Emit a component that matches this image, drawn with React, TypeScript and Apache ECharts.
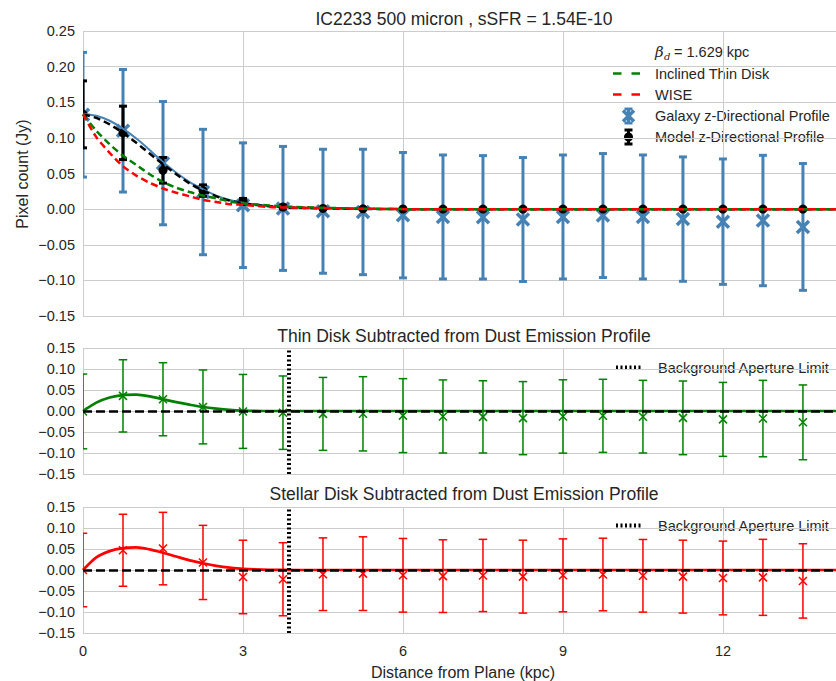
import React, { useEffect, useRef } from "react";
import * as echarts from "echarts";

const FONT = "'Liberation Sans', Arial, Helvetica, sans-serif";
const TXT = "#262626";
const GRIDC = "#cccccc";
const BLUE = "#4682b4";
const GREEN = "#008000";
const RED = "#ff0000";

const X_MAX = 14.12;
const apertureLimit = 3.86;

// sampled heights (kpc)
const zPos = [0, 0.75, 1.5, 2.25, 3, 3.75, 4.5, 5.25, 6, 6.75, 7.5, 8.25, 9, 9.75, 10.5, 11.25, 12, 12.75, 13.5];

// top panel: galaxy profile
const galaxyVal = [0.1325, 0.11, 0.0645, 0.024, 0.0055, 0.001, -0.003, -0.004, -0.0085, -0.011, -0.0115, -0.0146, -0.011, -0.009, -0.011, -0.014, -0.0176, -0.016, -0.025];
const galaxyErr = [0.0875, 0.086, 0.0865, 0.088, 0.0875, 0.087, 0.087, 0.088, 0.088, 0.087, 0.0866, 0.087, 0.087, 0.087, 0.087, 0.0873, 0.088, 0.0915, 0.089];
// top panel: model profile
const modelVal = [0.133, 0.107, 0.0545, 0.026, 0.011, 0.003, 0.001, 0.0004, 0.0002, 0.0001, 0.0001, 0, 0, 0, 0, 0, 0, 0, 0];
const modelErr = [0.047, 0.0375, 0.018, 0.008, 0.004, 0.002, 0.001, 0.0005, 0.0003, 0.0002, 0.0001, 0, 0, 0, 0, 0, 0, 0, 0];

// middle panel: thin disk subtracted
const thinSubVal = [-0.001, 0.036, 0.028, 0.0097, -0.001, -0.004, -0.0069, -0.0067, -0.011, -0.013, -0.014, -0.017, -0.013, -0.0115, -0.0135, -0.0163, -0.02, -0.018, -0.027];
const thinSubErr = [0.089, 0.086, 0.087, 0.088, 0.088, 0.0874, 0.0868, 0.0884, 0.088, 0.087, 0.086, 0.087, 0.0873, 0.087, 0.0865, 0.0877, 0.088, 0.091, 0.089];

// bottom panel: stellar disk subtracted
const stellarSubVal = [0, 0.047, 0.051, 0.018, -0.0166, -0.022, -0.01, -0.0087, -0.0126, -0.0146, -0.013, -0.0158, -0.0127, -0.0107, -0.0138, -0.0158, -0.019, -0.0175, -0.026];
const stellarSubErr = [0.0875, 0.0857, 0.0863, 0.0883, 0.0875, 0.087, 0.0865, 0.0877, 0.0877, 0.0865, 0.086, 0.0868, 0.0868, 0.0864, 0.0865, 0.0868, 0.0878, 0.0905, 0.0885];

// curves
const curveX = [0, 0.25, 0.5, 0.75, 1, 1.25, 1.5, 1.75, 2, 2.25, 2.5, 2.75, 3, 3.5, 4, 5, 6, 8, 10, 12, 14.12];
const galaxyFit = [0.134, 0.131, 0.124, 0.113, 0.099, 0.083, 0.066, 0.051, 0.038, 0.028, 0.019, 0.013, 0.009, 0.004, 0.002, 0.0005, 0, 0, 0, 0, 0];
const modelFit = [0.133, 0.128, 0.119, 0.107, 0.093, 0.078, 0.063, 0.049, 0.036, 0.026, 0.018, 0.012, 0.008, 0.004, 0.002, 0.0005, 0, 0, 0, 0, 0];
const thinDisk = [0.133, 0.11, 0.091, 0.075, 0.062, 0.049, 0.038, 0.03, 0.024, 0.019, 0.015, 0.011, 0.008, 0.005, 0.003, 0.001, 0, 0, 0, 0, 0];
const wise = [0.133, 0.101, 0.079, 0.06, 0.047, 0.037, 0.029, 0.023, 0.018, 0.013, 0.01, 0.007, 0.006, 0.003, 0.002, 0.001, 0, 0, 0, 0, 0];
const thinSubFit = [0, 0.02, 0.032, 0.038, 0.039, 0.035, 0.028, 0.021, 0.015, 0.0095, 0.0055, 0.0025, 0.001, 0, 0, 0, 0, 0, 0, 0, 0];
const stellarSubFit = [0, 0.03, 0.045, 0.052, 0.054, 0.049, 0.041, 0.032, 0.023, 0.016, 0.01, 0.0055, 0.0025, 0.0005, 0, 0, 0, 0, 0, 0, 0];

const titles = [
  "IC2233 500 micron , sSFR = 1.54E-10",
  "Thin Disk Subtracted from Dust Emission Profile",
  "Stellar Disk Subtracted from Dust Emission Profile",
];

const zip2 = (xs: number[], ys: number[]) => xs.map((x, i) => [x, ys[i]]);
const zip3 = (xs: number[], ys: number[], es: number[]) => xs.map((x, i) => [x, ys[i], es[i]]);

type ErrOpt = { color: string; lw: number; capW: number; capLw: number; marker: "x" | "dot"; mSize: number; mLw: number };

function makeErrRender(o: ErrOpt) {
  return function (_params: any, api: any) {
    const x = api.value(0);
    const y = api.value(1);
    const e = api.value(2);
    const p = api.coord([x, y]);
    const t = api.coord([x, y + e]);
    const b = api.coord([x, y - e]);
    const h = o.capW / 2;
    const children: any[] = [
      { type: "line", shape: { x1: t[0], y1: t[1], x2: b[0], y2: b[1] }, style: { stroke: o.color, lineWidth: o.lw } },
      { type: "line", shape: { x1: t[0] - h, y1: t[1], x2: t[0] + h, y2: t[1] }, style: { stroke: o.color, lineWidth: o.capLw } },
      { type: "line", shape: { x1: b[0] - h, y1: b[1], x2: b[0] + h, y2: b[1] }, style: { stroke: o.color, lineWidth: o.capLw } },
    ];
    if (o.marker === "x") {
      const m = o.mSize / 2;
      children.push({ type: "line", shape: { x1: p[0] - m, y1: p[1] - m, x2: p[0] + m, y2: p[1] + m }, style: { stroke: o.color, lineWidth: o.mLw } });
      children.push({ type: "line", shape: { x1: p[0] - m, y1: p[1] + m, x2: p[0] + m, y2: p[1] - m }, style: { stroke: o.color, lineWidth: o.mLw } });
    } else {
      children.push({ type: "circle", shape: { cx: p[0], cy: p[1], r: o.mSize / 2 }, style: { fill: o.color } });
    }
    return { type: "group", children };
  };
}

const fmtY = (v: number) => {
  if (Math.abs(v) < 1e-9) return "0.00";
  const s = Math.abs(v).toFixed(2);
  return v < 0 ? "\u2212" + s : s;
};

const LEFT = 83;
const WIDTH = 753;
const grids = [
  { left: LEFT, top: 31, width: WIDTH, height: 285 },
  { left: LEFT, top: 348, width: WIDTH, height: 126 },
  { left: LEFT, top: 507, width: WIDTH, height: 126 },
];
const yRanges = [
  [-0.15, 0.25],
  [-0.15, 0.15],
  [-0.15, 0.15],
];

function txt(x: number, y: number, text: string, size: number, extra: any = {}) {
  return {
    type: "text",
    x,
    y,
    silent: true,
    style: {
      text,
      fill: TXT,
      font: `${extra.fontStyle || "normal"} ${size}px ${extra.fontFamily || FONT}`,
      textAlign: extra.align || "left",
      textVerticalAlign: "middle",
    },
    ...(extra.rotation !== undefined ? { rotation: extra.rotation } : {}),
  };
}

function hline(x1: number, x2: number, y: number, color: string, width: number, dash?: number[]) {
  return {
    type: "line",
    silent: true,
    shape: { x1, y1: y, x2, y2: y },
    style: { stroke: color, lineWidth: width, lineDash: dash || null },
  };
}

function vline(x: number, y1: number, y2: number, color: string, width: number) {
  return { type: "line", silent: true, shape: { x1: x, y1, x2: x, y2 }, style: { stroke: color, lineWidth: width } };
}

function App() {
  const ref = useRef<HTMLDivElement>(null);
  useEffect(() => {
    if (!ref.current) return;
    const chart = echarts.init(ref.current, undefined, { renderer: "svg" });

    const xAxis = grids.map((_, i) => ({
      type: "value",
      gridIndex: i,
      min: 0,
      max: X_MAX,
      interval: 3,
      axisLine: { show: false },
      axisTick: { show: false },
      splitLine: { show: true, lineStyle: { color: GRIDC, width: 1 } },
      axisLabel: {
        show: i === 2,
        showMaxLabel: false,
        margin: 10,
        color: TXT,
        fontSize: 14.5,
        fontFamily: FONT,
        formatter: (v: number) => (Math.abs(v % 3) < 1e-6 ? String(Math.round(v)) : ""),
      },
    }));

    const yAxis = grids.map((_, i) => ({
      type: "value",
      gridIndex: i,
      min: yRanges[i][0],
      max: yRanges[i][1],
      interval: 0.05,
      axisLine: { show: false },
      axisTick: { show: false },
      splitLine: { show: true, lineStyle: { color: GRIDC, width: 1 } },
      axisLabel: { margin: 8, color: TXT, fontSize: 14.5, fontFamily: FONT, formatter: fmtY },
    }));

    const curve = (data: number[], color: string, dash: any, width: number, idx: number, extra: any = {}) => ({
      type: "line",
      xAxisIndex: idx,
      yAxisIndex: idx,
      data: zip2(curveX, data),
      showSymbol: false,
      symbol: "none",
      smooth: 0.25,
      lineStyle: { color, width, type: dash },
      silent: true,
      ...extra,
    });

    const markers = () => ({
      symbol: "none",
      silent: true,
      label: { show: false },
      emphasis: { disabled: true },
      data: [
        { yAxis: 0, lineStyle: { color: "#000", width: 2.5, type: [9, 4] } },
        { xAxis: apertureLimit, lineStyle: { color: "#000", width: 4, type: [2, 2.5] } },
      ],
    });

    const errSeries = (idx: number, data: any[], o: ErrOpt) => ({
      type: "custom",
      xAxisIndex: idx,
      yAxisIndex: idx,
      clip: true,
      silent: true,
      encode: { x: 0, y: 1 },
      data,
      renderItem: makeErrRender(o),
    });

    const series: any[] = [
      errSeries(0, zip3(zPos, galaxyVal, galaxyErr), { color: BLUE, lw: 3, capW: 8, capLw: 3, marker: "x", mSize: 12, mLw: 3.5 }),
      curve(galaxyFit, BLUE, "solid", 2, 0),
      curve(modelFit, "#000", [7, 4], 2.5, 0),
      curve(thinDisk, GREEN, [7, 4], 2.5, 0),
      curve(wise, RED, [7, 4], 2.5, 0),
      errSeries(0, zip3(zPos, modelVal, modelErr), { color: "#000", lw: 3, capW: 8, capLw: 3, marker: "dot", mSize: 9, mLw: 1 }),
      // middle panel
      errSeries(1, zip3(zPos, thinSubVal, thinSubErr), { color: GREEN, lw: 1.5, capW: 8.5, capLw: 1.5, marker: "x", mSize: 8, mLw: 1.5 }),
      curve(thinSubFit, GREEN, "solid", 2.7, 1, { markLine: markers() }),
      // bottom panel
      errSeries(2, zip3(zPos, stellarSubVal, stellarSubErr), { color: RED, lw: 1.5, capW: 8.5, capLw: 1.5, marker: "x", mSize: 8, mLw: 1.5 }),
      curve(stellarSubFit, RED, "solid", 2.7, 2, { markLine: markers() }),
    ];

    const LX = 655;
    const graphic: any[] = [
      txt(464, 18.5, titles[0], 17.5, { align: "center" }),
      txt(464, 335.5, titles[1], 17.5, { align: "center" }),
      txt(464, 494, titles[2], 17.5, { align: "center" }),
      txt(22, 174, "Pixel count (Jy)", 16, { align: "center", rotation: Math.PI / 2 }),
      txt(463, 672, "Distance from Plane (kpc)", 16, { align: "center" }),
      // top legend
      txt(LX, 52, "\u03b2", 15, { fontStyle: "italic", fontFamily: "'DejaVu Serif', serif" }),
      txt(LX + 9, 56, "d", 10, { fontStyle: "italic", fontFamily: "'DejaVu Serif', serif" }),
      txt(LX + 19, 52, "= 1.629 kpc", 14.5),
      hline(613, 621.5, 73.5, GREEN, 2.5),
      hline(631.5, 640, 73.5, GREEN, 2.5),
      txt(LX, 73.5, "Inclined Thin Disk", 14.5),
      hline(613, 621.5, 94.5, RED, 2.5),
      hline(631.5, 640, 94.5, RED, 2.5),
      txt(LX, 94.5, "WISE", 14.5),
      vline(628.5, 109, 123, BLUE, 3),
      hline(624.5, 632.5, 109, BLUE, 3),
      hline(624.5, 632.5, 123, BLUE, 3),
      { type: "line", silent: true, shape: { x1: 623, y1: 110.5, x2: 634, y2: 121.5 }, style: { stroke: BLUE, lineWidth: 3.5 } },
      { type: "line", silent: true, shape: { x1: 623, y1: 121.5, x2: 634, y2: 110.5 }, style: { stroke: BLUE, lineWidth: 3.5 } },
      txt(LX, 116, "Galaxy z-Directional Profile", 14.5),
      vline(628.5, 130, 144, "#000", 3),
      hline(624.5, 632.5, 130, "#000", 3),
      hline(624.5, 632.5, 144, "#000", 3),
      { type: "circle", silent: true, shape: { cx: 628.5, cy: 137, r: 4.5 }, style: { fill: "#000" } },
      txt(LX, 136.5, "Model z-Directional Profile", 14.5),
      // middle / bottom legends
      hline(616, 642, 367.5, "#000", 4, [2, 2.5]),
      txt(658, 367.5, "Background Aperture Limit", 14.5),
      hline(616, 642, 525.5, "#000", 4, [2, 2.5]),
      txt(658, 525.5, "Background Aperture Limit", 14.5),
    ];

    chart.setOption({
      animation: false,
      backgroundColor: "#ffffff",
      textStyle: { fontFamily: FONT },
      grid: grids,
      xAxis,
      yAxis,
      series,
      graphic,
    });
    return () => chart.dispose();
  }, []);
  return <div ref={ref} style={{ position: "absolute", left: 0, top: 0, width: 836, height: 681 }} />;
}

export default App;
